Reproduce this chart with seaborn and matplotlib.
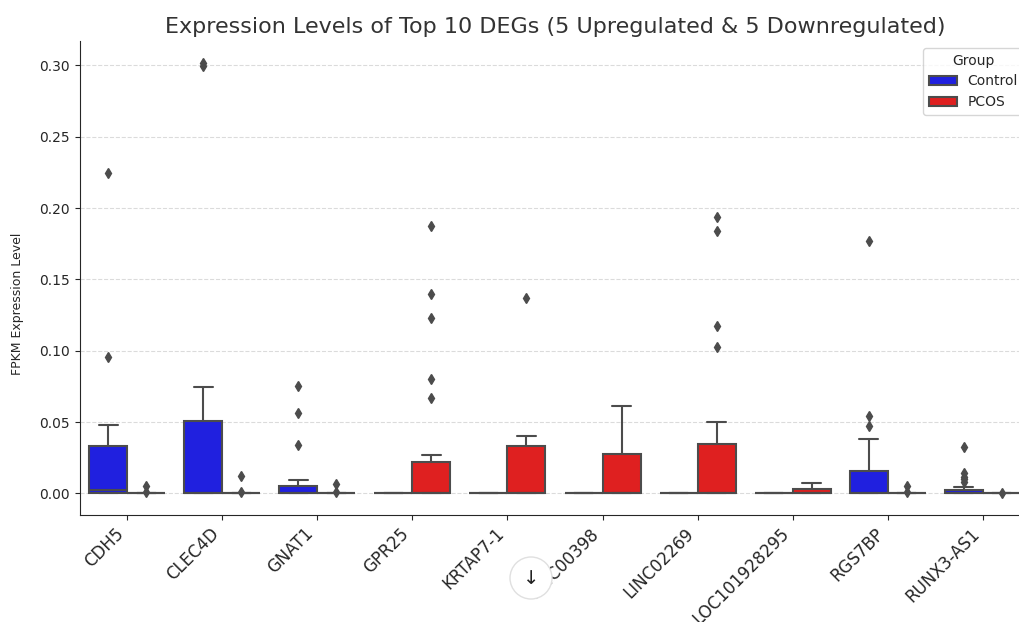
import pandas as pd
import matplotlib.pyplot as plt
import seaborn as sns
from matplotlib.patches import Circle
from matplotlib.transforms import IdentityTransform

# Set graph style
sns.set_style("ticks")

# Genes on the x axis
genes = ["CDH5", "CLEC4D", "GNAT1", "GPR25", "KRTAP7-1",
         "LINC00398", "LINC02269", "LOC101928295", "RGS7BP", "RUNX3-AS1"]
groups = ["Control", "PCOS"]

# FPKM per sample (24 Control, 24 PCOS)
cdh5_control = [0, 0, 0, 0, 0, 0, 0, 0, 0, 0.0008, 0.0014, 0.0021,
                0.0031, 0.0065, 0.0112, 0.0174, 0.0243, 0.0326, 0.0362, 0.0391,
                0.0437, 0.0478, 0.0955, 0.2244]
cdh5_pcos = [0, 0, 0, 0, 0, 0, 0, 0, 0, 0, 0, 0,
             0, 0, 0, 0, 0, 0, 0, 0, 0, 0, 0.0008, 0.0055]

clec4d_control = [0, 0, 0, 0, 0, 0, 0, 0, 0, 0, 0, 0, 0,
                  0.0046, 0.0118, 0.0235, 0.0372, 0.0499, 0.0548, 0.0593,
                  0.0661, 0.0747, 0.2995, 0.3020]
clec4d_pcos = [0, 0, 0, 0, 0, 0, 0, 0, 0, 0, 0, 0,
               0, 0, 0, 0, 0, 0, 0, 0, 0, 0, 0.0008, 0.0119]

gnat1_control = [0, 0, 0, 0, 0, 0, 0, 0, 0, 0, 0, 0, 0,
                 0.0008, 0.0017, 0.0029, 0.0040, 0.0049, 0.0061, 0.0070,
                 0.0096, 0.0343, 0.0563, 0.0752]
gnat1_pcos = [0, 0, 0, 0, 0, 0, 0, 0, 0, 0, 0, 0,
              0, 0, 0, 0, 0, 0, 0, 0, 0, 0, 0.0008, 0.0068]

gpr25_control = [0, 0, 0, 0, 0, 0, 0, 0, 0, 0, 0, 0,
                 0, 0, 0, 0, 0, 0, 0, 0, 0, 0, 0, 0]
gpr25_pcos = [0, 0, 0, 0, 0, 0, 0, 0, 0, 0, 0, 0, 0,
              0.0021, 0.0054, 0.0098, 0.0151, 0.0202, 0.0267, 0.0672,
              0.0803, 0.1230, 0.1400, 0.1876]

krtap7_control = [0, 0, 0, 0, 0, 0, 0, 0, 0, 0, 0, 0,
                  0, 0, 0, 0, 0, 0, 0, 0, 0, 0, 0, 0]
krtap7_pcos = [0, 0, 0, 0, 0, 0, 0, 0, 0, 0, 0, 0, 0,
               0.0036, 0.0102, 0.0184, 0.0261, 0.0330, 0.0342, 0.0356,
               0.0371, 0.0388, 0.0405, 0.1368]

linc00398_control = [0, 0, 0, 0, 0, 0, 0, 0, 0, 0, 0, 0,
                     0, 0, 0, 0, 0, 0, 0, 0, 0, 0, 0, 0]
linc00398_pcos = [0, 0, 0, 0, 0, 0, 0, 0, 0, 0, 0, 0, 0,
                  0.0027, 0.0078, 0.0141, 0.0206, 0.0269, 0.0297, 0.0334,
                  0.0381, 0.0448, 0.0527, 0.0616]

linc02269_control = [0, 0, 0, 0, 0, 0, 0, 0, 0, 0, 0, 0,
                     0, 0, 0, 0, 0, 0, 0, 0, 0, 0, 0, 0]
linc02269_pcos = [0, 0, 0, 0, 0, 0, 0, 0, 0, 0, 0, 0, 0,
                  0.0033, 0.0096, 0.0171, 0.0254, 0.0332, 0.0392, 0.0499,
                  0.1028, 0.1176, 0.1840, 0.1939]

loc101928295_control = [0, 0, 0, 0, 0, 0, 0, 0, 0, 0, 0, 0,
                        0, 0, 0, 0, 0, 0, 0, 0, 0, 0, 0, 0]
loc101928295_pcos = [0, 0, 0, 0, 0, 0, 0, 0, 0, 0, 0, 0, 0,
                     0.0004, 0.0010, 0.0017, 0.0024, 0.0030, 0.0034, 0.0038,
                     0.0043, 0.0049, 0.0058, 0.0070]

rgs7bp_control = [0, 0, 0, 0, 0, 0, 0, 0, 0, 0, 0, 0, 0,
                  0.0012, 0.0035, 0.0068, 0.0104, 0.0147, 0.0196, 0.0274,
                  0.0382, 0.0470, 0.0541, 0.1766]
rgs7bp_pcos = [0, 0, 0, 0, 0, 0, 0, 0, 0, 0, 0, 0,
               0, 0, 0, 0, 0, 0, 0, 0, 0, 0, 0.0008, 0.0054]

runx3_control = [0, 0, 0, 0, 0, 0, 0, 0, 0, 0, 0, 0, 0,
                 0.0003, 0.0007, 0.0011, 0.0016, 0.0020, 0.0045, 0.0078,
                 0.0098, 0.0118, 0.0140, 0.0323]
runx3_pcos = [0, 0, 0, 0, 0, 0, 0, 0, 0, 0, 0, 0,
              0, 0, 0, 0, 0, 0, 0, 0, 0, 0, 0, 0.0006]

control_lists = [cdh5_control, clec4d_control, gnat1_control, gpr25_control,
                 krtap7_control, linc00398_control, linc02269_control,
                 loc101928295_control, rgs7bp_control, runx3_control]
pcos_lists = [cdh5_pcos, clec4d_pcos, gnat1_pcos, gpr25_pcos,
              krtap7_pcos, linc00398_pcos, linc02269_pcos,
              loc101928295_pcos, rgs7bp_pcos, runx3_pcos]

# Long-form table for seaborn
rows = []
for gene, ctrl, pcos in zip(genes, control_lists, pcos_lists):
    for v in ctrl:
        rows.append((gene, "Control", v))
    for v in pcos:
        rows.append((gene, "PCOS", v))
df = pd.DataFrame(rows, columns=["Gene", "Group", "FPKM"])

# Plot graph
fig = plt.figure(figsize=(10.19, 6.22), dpi=100)
ax = fig.add_axes([79.5 / 1019, 1 - 515 / 622, 951 / 1019, 474 / 622])

gray = "#4c4c4c"
sns.boxplot(
    data=df, x="Gene", y="FPKM", hue="Group",
    order=genes, hue_order=groups,
    palette={"Control": "blue", "PCOS": "red"},
    linecolor=gray, linewidth=1.5, fliersize=5,
    flierprops={"marker": "d", "markerfacecolor": gray,
                "markeredgecolor": gray},
    ax=ax,
)

ax.yaxis.grid(True, linestyle="--", alpha=0.7)
ax.set_axisbelow(True)
sns.despine(ax=ax)

ax.set_title("Expression Levels of Top 10 DEGs (5 Upregulated & 5 Downregulated)",
             fontsize=16, color="#333333")
ax.set_xlabel("")
ax.set_ylabel("FPKM Expression Level", fontsize=9)
ax.yaxis.set_label_coords(-0.058, 0.445)
ax.tick_params(axis="x", labelsize=12)
plt.setp(ax.get_xticklabels(), rotation=45, ha="right")
ax.legend(title="Group", loc="upper right")

# scroll button overlay seen in the screenshot
fig.add_artist(Circle((531, 622 - 578), 21, transform=IdentityTransform(),
                      facecolor="white", edgecolor="#e0e0e0", linewidth=1))
fig.text(531 / 1019, 1 - 578 / 622, "\u2193", ha="center", va="center",
         fontsize=14, color="#222222")

fig.savefig("out.png", dpi=100)
